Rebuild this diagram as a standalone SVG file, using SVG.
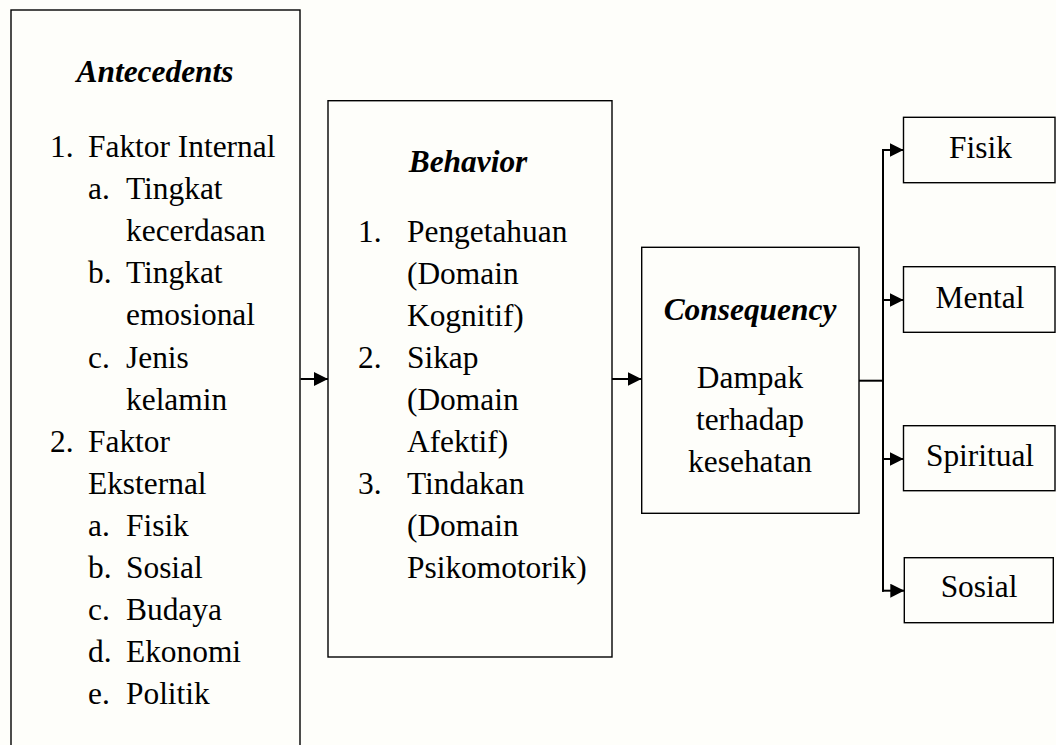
<svg xmlns="http://www.w3.org/2000/svg" width="1056" height="745" viewBox="0 0 1056 745">
  <style>
    .box { fill: none; stroke: #000; stroke-width: 1.4; }
    .t { font-family: "Liberation Serif", "Times New Roman", serif; font-size: 31.4px; fill: #000; }
    .h { font-weight: bold; font-style: italic; text-anchor: middle; }
    .c { text-anchor: middle; }
    .con { fill: none; stroke: #000; stroke-width: 2; }
  </style>
  <defs>
    <marker id="arr" viewBox="0 0 14 14" refX="14" refY="7" markerWidth="14" markerHeight="14" markerUnits="userSpaceOnUse" orient="auto">
      <path d="M0,0 L14,7 L0,14 z" fill="#000"/>
    </marker>
  </defs>
  <rect x="0" y="0" width="1056" height="745" fill="#fefefa"/>

  <g id="antecedents">
    <rect class="box" x="11" y="10" width="289" height="760"/>
    <text class="t h" x="155" y="82">Antecedents</text>
    <text class="t" x="50" y="157">1.</text><text class="t" x="88" y="157">Faktor Internal</text>
    <text class="t" x="88" y="199">a.</text><text class="t" x="126" y="199">Tingkat</text>
    <text class="t" x="126" y="241">kecerdasan</text>
    <text class="t" x="88" y="283">b.</text><text class="t" x="126" y="283">Tingkat</text>
    <text class="t" x="126" y="325">emosional</text>
    <text class="t" x="88" y="367.5">c.</text><text class="t" x="126" y="367.5">Jenis</text>
    <text class="t" x="126" y="409.5">kelamin</text>
    <text class="t" x="50" y="451.5">2.</text><text class="t" x="88" y="451.5">Faktor</text>
    <text class="t" x="88" y="493.5">Eksternal</text>
    <text class="t" x="88" y="536">a.</text><text class="t" x="126" y="536">Fisik</text>
    <text class="t" x="88" y="578">b.</text><text class="t" x="126" y="578">Sosial</text>
    <text class="t" x="88" y="620">c.</text><text class="t" x="126" y="620">Budaya</text>
    <text class="t" x="88" y="662">d.</text><text class="t" x="126" y="662">Ekonomi</text>
    <text class="t" x="88" y="704">e.</text><text class="t" x="126" y="704">Politik</text>
  </g>

  <g id="behavior">
    <rect class="box" x="328" y="100.7" width="284" height="556.3"/>
    <text class="t h" x="468" y="171.5">Behavior</text>
    <text class="t" x="358" y="241.5">1.</text><text class="t" x="407" y="241.5">Pengetahuan</text>
    <text class="t" x="407" y="283.5">(Domain</text>
    <text class="t" x="407" y="325.5">Kognitif)</text>
    <text class="t" x="358" y="367.5">2.</text><text class="t" x="407" y="367.5">Sikap</text>
    <text class="t" x="407" y="409.5">(Domain</text>
    <text class="t" x="407" y="451.5">Afektif)</text>
    <text class="t" x="358" y="493.5">3.</text><text class="t" x="407" y="493.5">Tindakan</text>
    <text class="t" x="407" y="535.5">(Domain</text>
    <text class="t" x="407" y="577.5">Psikomotorik)</text>
  </g>

  <g id="consequency">
    <rect class="box" x="641.7" y="247.3" width="217.3" height="266"/>
    <text class="t h" x="750" y="320">Consequency</text>
    <text class="t c" x="750" y="388">Dampak</text>
    <text class="t c" x="750" y="430">terhadap</text>
    <text class="t c" x="750" y="472">kesehatan</text>
  </g>

  <g id="fisik">
    <rect class="box" x="903.5" y="117.3" width="151.5" height="65.4"/>
    <text class="t c" x="980.5" y="158">Fisik</text>
  </g>
  <g id="mental">
    <rect class="box" x="903.5" y="266.7" width="151.5" height="65.6"/>
    <text class="t c" x="980" y="307.5">Mental</text>
  </g>
  <g id="spiritual">
    <rect class="box" x="903.5" y="425.7" width="151.5" height="65"/>
    <text class="t c" x="980" y="466">Spiritual</text>
  </g>
  <g id="sosial">
    <rect class="box" x="904.3" y="557.7" width="149" height="65"/>
    <text class="t c" x="979" y="597">Sosial</text>
  </g>

  <g id="connectors">
    <path class="con" d="M300.5,379 H328" marker-end="url(#arr)"/>
    <path class="con" d="M612,379 H641.5" marker-end="url(#arr)"/>
    <path class="con" d="M859,380.7 H884"/>
    <path class="con" d="M883,149 V591.7"/>
    <path class="con" d="M882,150 H903.5" marker-end="url(#arr)"/>
    <path class="con" d="M882,300 H903.5" marker-end="url(#arr)"/>
    <path class="con" d="M882,459 H903.5" marker-end="url(#arr)"/>
    <path class="con" d="M882,590.7 H904.3" marker-end="url(#arr)"/>
  </g>
</svg>
